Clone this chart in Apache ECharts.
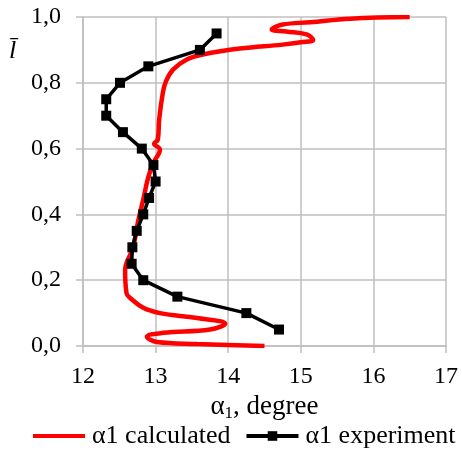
<!DOCTYPE html>
<html>
<head>
<meta charset="utf-8">
<script src="https://cdn.jsdelivr.net/npm/echarts@6/dist/echarts.min.js"></script>
<style>
  html, body { margin: 0; padding: 0; background: #fff; }
  #chart { width: 462px; height: 450px; }
</style>
</head>
<body>
<div id="chart"></div>
<script>
// calculated curve: [alpha1, l]
var calcAlpha = [14.5, 13.57, 13.02, 12.88, 13.1, 13.75, 13.96, 13.57, 13.06, 12.83, 12.65, 12.6, 12.58, 12.69, 12.76, 12.83, 12.9, 12.97, 13.06, 12.98, 13.03, 13.05, 13.1, 13.14, 13.24, 13.43, 13.65, 14.16, 14.75, 15.0, 15.17, 15.08, 14.8, 14.6, 14.75, 15.13, 15.68, 16.5];
var calcL = [0.0, 0.006, 0.012, 0.028, 0.04, 0.05, 0.068, 0.085, 0.10, 0.116, 0.146, 0.16, 0.23, 0.30, 0.38, 0.445, 0.514, 0.557, 0.597, 0.615, 0.627, 0.69, 0.77, 0.803, 0.84, 0.871, 0.886, 0.904, 0.916, 0.923, 0.93, 0.947, 0.956, 0.962, 0.977, 0.984, 0.995, 1.0];
// experiment
var expAlpha = [14.7, 14.25, 13.3, 12.83, 12.67, 12.68, 12.74, 12.83, 12.91, 13.0, 12.97, 12.81, 12.55, 12.32, 12.32, 12.51, 12.9, 13.61, 13.84];
var expL = [0.05, 0.10, 0.15, 0.20, 0.25, 0.30, 0.35, 0.40, 0.45, 0.50, 0.55, 0.60, 0.65, 0.70, 0.75, 0.80, 0.85, 0.90, 0.95];
var xTicks = [12, 13, 14, 15, 16, 17];
var yTicks = [0, 0.2, 0.4, 0.6, 0.8, 1.0];

var font = '"Liberation Serif", "Times New Roman", "DejaVu Serif", serif';
var gridColor = '#bfbfbf';

function pairs(xs, ys) {
  var out = [];
  for (var i = 0; i < xs.length; i++) out.push([xs[i], ys[i]]);
  return out;
}

var chart = echarts.init(document.getElementById('chart'));
chart.setOption({
  animation: false,
  backgroundColor: '#fff',
  textStyle: { fontFamily: font, color: '#000' },
  grid: { left: 83, right: 16, top: 17, bottom: 104, outerBoundsMode: 'none' },
  legend: {
    bottom: 1,
    left: 31,
    width: 440,
    padding: 0,
    itemWidth: 52,
    itemHeight: 12,
    itemGap: 14,
    textStyle: { fontFamily: font, fontSize: 26, color: '#000', padding: [0, 0, 0, 2] },
    data: [
      { name: 'α1 calculated', itemStyle: { opacity: 0 }, lineStyle: { width: 4 } },
      { name: 'α1 experiment', lineStyle: { width: 4 } }
    ]
  },
  xAxis: {
    type: 'value',
    min: xTicks[0],
    max: xTicks[xTicks.length - 1],
    interval: 1,
    name: '{a|α}{s|1}{a|, degree}',
    nameLocation: 'middle',
    nameGap: 46,
    nameTextStyle: {
      rich: {
        a: { fontFamily: font, fontSize: 27, color: '#000' },
        s: { fontFamily: font, fontSize: 17, color: '#000', verticalAlign: 'bottom', padding: [12, 0, 0, 0] }
      }
    },
    axisLine: { show: true, lineStyle: { color: gridColor, width: 1.5 } },
    axisTick: { show: true, length: 7, lineStyle: { color: gridColor, width: 1.5 } },
    splitLine: { show: true, lineStyle: { color: gridColor, width: 1.5 } },
    axisLabel: { fontFamily: font, fontSize: 24, color: '#000', margin: 19 }
  },
  yAxis: {
    type: 'value',
    min: yTicks[0],
    max: yTicks[yTicks.length - 1],
    interval: 0.2,
    axisLine: { show: true, lineStyle: { color: gridColor, width: 1.5 } },
    axisTick: { show: true, length: 7, lineStyle: { color: gridColor, width: 1.5 } },
    splitLine: { show: true, lineStyle: { color: gridColor, width: 1.5 } },
    axisLabel: {
      fontFamily: font, fontSize: 24, color: '#000', margin: 22,
      formatter: function (v) { return v.toFixed(1).replace('.', ','); }
    }
  },
  graphic: [{
    type: 'text',
    left: 9,
    top: 38,
    style: { text: 'l\u0304', font: 'italic 26px "Liberation Serif", "DejaVu Serif", serif', fill: '#000' }
  }],
  series: [{
    name: 'α1 calculated',
    type: 'line',
    data: pairs(calcAlpha, calcL),
    smooth: 0.4,
    symbol: 'none',
    lineStyle: { color: '#ff0000', width: 4.5 },
    itemStyle: { color: '#ff0000' }
  }, {
    name: 'α1 experiment',
    type: 'line',
    data: pairs(expAlpha, expL),
    symbol: 'rect',
    symbolSize: 10,
    lineStyle: { color: '#000', width: 3.5 },
    itemStyle: { color: '#000' }
  }]
});
</script>
</body>
</html>
